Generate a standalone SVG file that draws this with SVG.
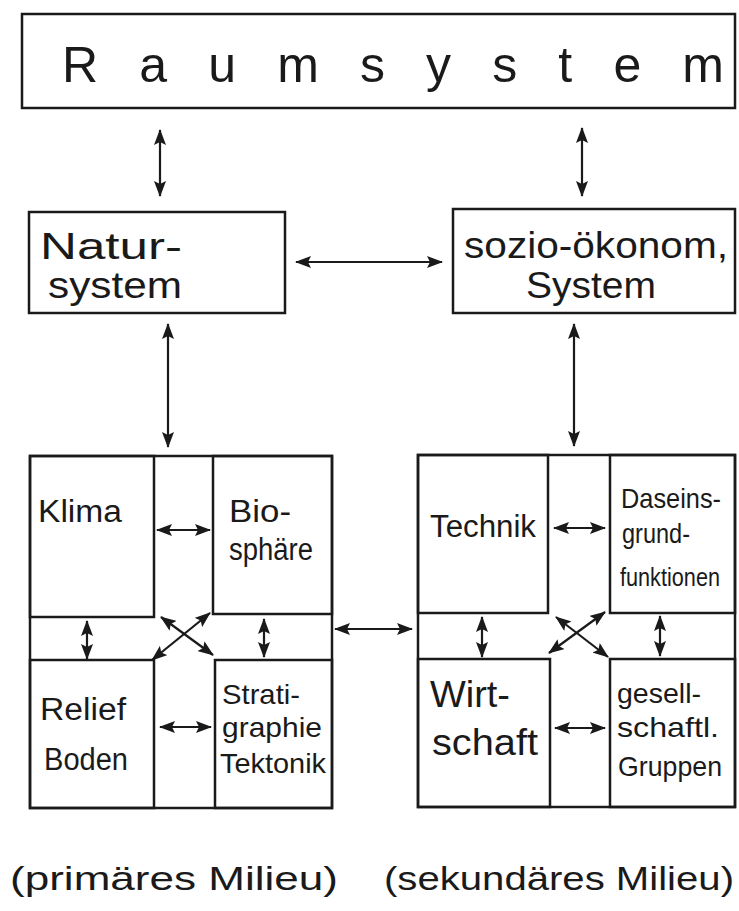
<svg xmlns="http://www.w3.org/2000/svg" width="739" height="911" viewBox="0 0 739 911">
<defs>
<style>
.box{fill:none;stroke:#1a1a1a;stroke-width:2.5}
.ln{fill:none;stroke:#1a1a1a;stroke-width:2.2}
.t{font-family:"Liberation Sans",Arial,sans-serif;fill:#1a1a1a}
.big{font-size:50px}
.mid{font-size:37px}
.sm{font-size:31px}
.xs{font-size:28px}
.xxs{font-size:26px}
.lab{font-size:33px}
</style>
<marker id="ah" viewBox="0 0 16 12" refX="15" refY="6" markerWidth="16" markerHeight="12" markerUnits="userSpaceOnUse" orient="auto-start-reverse">
<path d="M0,0 L16,6 L0,12 L3,6 Z" fill="#1a1a1a"/>
</marker>
</defs>
<rect width="739" height="911" fill="#ffffff"/>

<g id="raumsystem">
<rect class="box" x="22" y="14" width="713" height="94"/>
<text class="t big" x="62" y="82" textLength="662" lengthAdjust="spacing">Raumsystem</text>
</g>

<g id="natursystem">
<rect class="box" x="29" y="212" width="256" height="101"/>
<text class="t mid" x="40" y="259" textLength="142" lengthAdjust="spacingAndGlyphs">Natur-</text>
<text class="t mid" x="48" y="298" textLength="134" lengthAdjust="spacingAndGlyphs">system</text>
</g>

<g id="soziooekonom">
<rect class="box" x="453" y="209" width="282" height="104"/>
<text class="t mid" x="464" y="258" textLength="264" lengthAdjust="spacingAndGlyphs">sozio-ökonom,</text>
<text class="t mid" x="526" y="298" textLength="130" lengthAdjust="spacingAndGlyphs">System</text>
</g>

<g id="primaer">
<rect class="box" x="30" y="456" width="302" height="352"/>
<g id="klima">
<rect class="box" x="30" y="456" width="124" height="161"/>
<text class="t sm" x="38" y="522" textLength="84" lengthAdjust="spacingAndGlyphs">Klima</text>
</g>
<g id="biosphaere">
<rect class="box" x="213" y="456" width="119" height="158"/>
<text class="t sm" x="229" y="522" textLength="62" lengthAdjust="spacingAndGlyphs">Bio-</text>
<text class="t sm" x="229" y="560" textLength="84" lengthAdjust="spacingAndGlyphs">sphäre</text>
</g>
<g id="reliefboden">
<rect class="box" x="30" y="660" width="124" height="148"/>
<text class="t sm" x="40" y="720" textLength="86" lengthAdjust="spacingAndGlyphs">Relief</text>
<text class="t sm" x="44" y="770" textLength="84" lengthAdjust="spacingAndGlyphs">Boden</text>
</g>
<g id="stratigraphie">
<rect class="box" x="215" y="660" width="117" height="148"/>
<text class="t xs" x="222" y="704" textLength="78" lengthAdjust="spacingAndGlyphs">Strati-</text>
<text class="t xs" x="222" y="737" textLength="100" lengthAdjust="spacingAndGlyphs">graphie</text>
<text class="t xs" x="220" y="773" textLength="106" lengthAdjust="spacingAndGlyphs">Tektonik</text>
</g>
</g>

<g id="sekundaer">
<rect class="box" x="418" y="455" width="317" height="352"/>
<g id="technik">
<rect class="box" x="418" y="455" width="130" height="158"/>
<text class="t sm" x="430" y="537" textLength="106" lengthAdjust="spacingAndGlyphs">Technik</text>
</g>
<g id="daseinsgrundfunktionen">
<rect class="box" x="610" y="455" width="125" height="158"/>
<text class="t xs" x="621" y="508" textLength="100" lengthAdjust="spacingAndGlyphs">Daseins-</text>
<text class="t xs" x="622" y="543" textLength="68" lengthAdjust="spacingAndGlyphs">grund-</text>
<text class="t xxs" x="620" y="586" textLength="100" lengthAdjust="spacingAndGlyphs">funktionen</text>
</g>
<g id="wirtschaft">
<rect class="box" x="418" y="659" width="132" height="148"/>
<text class="t mid" x="430" y="707" textLength="80" lengthAdjust="spacingAndGlyphs">Wirt-</text>
<text class="t mid" x="432" y="755" textLength="106" lengthAdjust="spacingAndGlyphs">schaft</text>
</g>
<g id="gesellschaftlgruppen">
<rect class="box" x="610" y="659" width="125" height="148"/>
<text class="t xs" x="617" y="703" textLength="84" lengthAdjust="spacingAndGlyphs">gesell-</text>
<text class="t xs" x="617" y="737" textLength="102" lengthAdjust="spacingAndGlyphs">schaftl.</text>
<text class="t xs" x="618" y="776" textLength="104" lengthAdjust="spacingAndGlyphs">Gruppen</text>
</g>
</g>

<g id="labels">
<text class="t lab" x="10" y="890" textLength="328" lengthAdjust="spacingAndGlyphs">(primäres Milieu)</text>
<text class="t lab" x="384" y="890" textLength="350" lengthAdjust="spacingAndGlyphs">(sekundäres Milieu)</text>
</g>

<g id="connectors">
<line class="ln" x1="160" y1="130" x2="160" y2="196" marker-start="url(#ah)" marker-end="url(#ah)"/>
<line class="ln" x1="582" y1="128" x2="582" y2="196" marker-start="url(#ah)" marker-end="url(#ah)"/>
<line class="ln" x1="296" y1="262" x2="442" y2="262" marker-start="url(#ah)" marker-end="url(#ah)"/>
<line class="ln" x1="168" y1="324" x2="168" y2="447" marker-start="url(#ah)" marker-end="url(#ah)"/>
<line class="ln" x1="574" y1="324" x2="574" y2="446" marker-start="url(#ah)" marker-end="url(#ah)"/>
<line class="ln" x1="335" y1="629" x2="412" y2="629" marker-start="url(#ah)" marker-end="url(#ah)"/>
<line class="ln" x1="157" y1="530" x2="210" y2="530" marker-start="url(#ah)" marker-end="url(#ah)"/>
<line class="ln" x1="160" y1="727" x2="211" y2="727" marker-start="url(#ah)" marker-end="url(#ah)"/>
<line class="ln" x1="87" y1="621" x2="87" y2="659" marker-start="url(#ah)" marker-end="url(#ah)"/>
<line class="ln" x1="264" y1="619" x2="264" y2="657" marker-start="url(#ah)" marker-end="url(#ah)"/>
<line class="ln" x1="161" y1="617" x2="213" y2="655" marker-start="url(#ah)" marker-end="url(#ah)"/>
<line class="ln" x1="210" y1="613" x2="152" y2="660" marker-start="url(#ah)" marker-end="url(#ah)"/>
<line class="ln" x1="554" y1="528" x2="605" y2="528" marker-start="url(#ah)" marker-end="url(#ah)"/>
<line class="ln" x1="555" y1="728" x2="605" y2="728" marker-start="url(#ah)" marker-end="url(#ah)"/>
<line class="ln" x1="482" y1="617" x2="482" y2="657" marker-start="url(#ah)" marker-end="url(#ah)"/>
<line class="ln" x1="660" y1="616" x2="660" y2="656" marker-start="url(#ah)" marker-end="url(#ah)"/>
<line class="ln" x1="556" y1="617" x2="608" y2="657" marker-start="url(#ah)" marker-end="url(#ah)"/>
<line class="ln" x1="605" y1="612" x2="549" y2="653" marker-start="url(#ah)" marker-end="url(#ah)"/>
</g>
</svg>
